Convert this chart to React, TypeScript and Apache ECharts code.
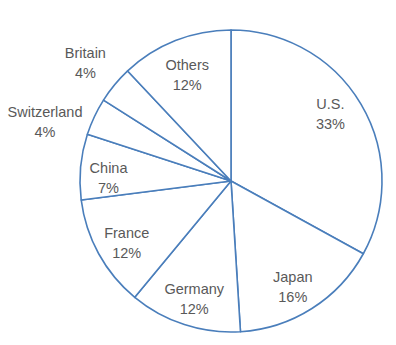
import React, { useEffect, useRef } from "react";
import * as echarts from "echarts";

const countries = ["U.S.", "Japan", "Germany", "France", "China", "Switzerland", "Britain", "Others"];
const shares = [33, 16, 12, 12, 7, 4, 4, 12];
const outsideLabels = ["Switzerland", "Britain"];

export default function App() {
  const ref = useRef<HTMLDivElement>(null);
  useEffect(() => {
    if (!ref.current) return;
    const chart = echarts.init(ref.current, null, { renderer: "svg" });
    const data = countries.map((name, i) => ({ name, value: shares[i] }));
    const labelStyle = {
      color: "#595959",
      fontFamily: "Liberation Sans",
      fontSize: 14.5,
      lineHeight: 20,
      align: "center" as const,
      formatter: (p: any) => `${p.name}\n${p.value}%`,
    };
    const common = {
      type: "pie" as const,
      center: [231, 181],
      startAngle: 90,
      clockwise: true,
      avoidLabelOverlap: false,
      animation: false,
      labelLine: { show: false },
      emphasis: { disabled: true },
    };
    const innerNudge: Record<string, { dx?: number; dy?: number }> = {
      "U.S.": { dx: -3, dy: -6 },
      Japan: { dx: -2, dy: 6 },
      Germany: { dy: 5 },
      France: { dy: 5 },
      China: { dx: -4, dy: 8 },
      Others: { dy: 5 },
    };
    chart.setOption({
      animation: false,
      backgroundColor: "#ffffff",
      series: [
        {
          ...common,
          radius: 151,
          label: { show: false },
          itemStyle: { color: "#ffffff", borderColor: "#4a7ebb", borderWidth: 1.6 },
          data,
        },
        {
          ...common,
          silent: true,
          radius: [86, 146],
          itemStyle: { color: "rgba(0,0,0,0)", borderWidth: 0 },
          label: { show: true, position: "inside", ...labelStyle },
          labelLayout: (p: any) => innerNudge[countries[p.dataIndex]] || {},
          data: data.map((d) => ({
            ...d,
            label: { show: !outsideLabels.includes(d.name) },
          })),
        },
        {
          ...common,
          silent: true,
          radius: [160, 212],
          itemStyle: { color: "rgba(0,0,0,0)", borderWidth: 0 },
          label: { show: true, position: "inside", ...labelStyle },
          labelLayout: (p: any) =>
            countries[p.dataIndex] === "Switzerland" ? { dx: -15, dy: 21 } : { dy: 2 },
          data: data.map((d) => ({
            ...d,
            label: { show: outsideLabels.includes(d.name) },
          })),
        },
      ],
    });
    return () => chart.dispose();
  }, []);
  return (
    <div
      ref={ref}
      style={{ position: "fixed", left: 0, top: 0, width: 396, height: 345 }}
    />
  );
}
